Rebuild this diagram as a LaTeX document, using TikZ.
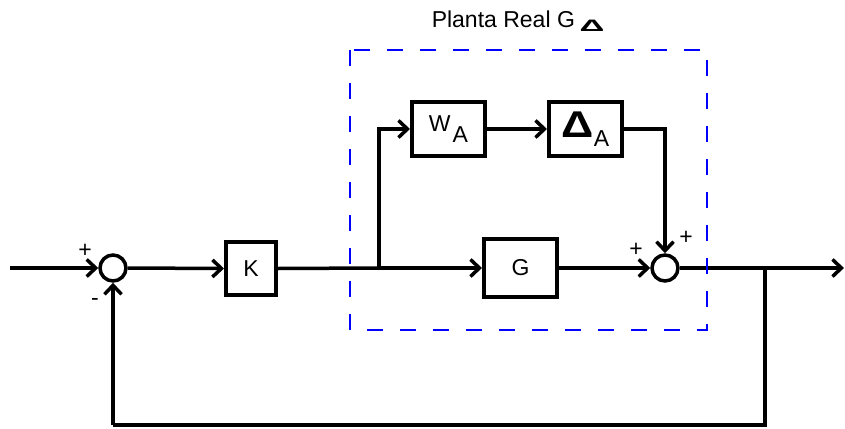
\documentclass[tikz,border=0pt]{standalone}
\usepackage{fontspec}
\setmainfont{Liberation Sans}
\usetikzlibrary{arrows.meta}
\begin{document}
\begin{tikzpicture}[x=1pt,y=-1pt,
  line width=3.5pt,
  font=\fontsize{23}{27}\selectfont,
  blockbox/.style={draw, line width=4pt, minimum width=73pt, minimum height=54pt, inner sep=0pt},
  sumnode/.style={draw, circle, line width=3.5pt, minimum size=26pt, inner sep=0pt},
  sig/.style={line width=3.5pt, -{Straight Barb[length=9pt,width=17pt]}},
  signlbl/.style={inner sep=0pt},
]
\useasboundingbox (0,0) rectangle (845,428);
% nodes
\node[sumnode] (s1) at (113,268) {};
\node[blockbox, minimum width=50pt, minimum height=53pt] (k) at (251,268.5) {K};
\node[blockbox] (wa) at (448.5,129) {W\hspace{2pt}\raisebox{-11pt}{A}};
\node[blockbox] (da) at (585.5,129) {\raisebox{-2pt}{\scalebox{1.95}[1.62]{\bfseries Δ}}\raisebox{-11pt}{A}};
\node[blockbox, minimum height=58pt] (g) at (520.5,268) {G};
\node[sumnode] (s2) at (665,268) {};
\coordinate (in) at (10,268);
\coordinate (out) at (844,268);
\coordinate (b1) at (379,268);
\coordinate (b2) at (765,268);
\coordinate (c1) at (765,425);
\coordinate (c2) at (113,425);
% signals
\draw[sig] (in) -- (s1.west);
\draw[sig] (s1.east) -- (k.west);
\draw (k.east) -- (b1);
\draw[sig] (b1) -- (g.west);
\draw[sig] (b1) |- (wa.west);
\draw[sig] (wa.east) -- (da.west);
\draw[sig] (da.east) -| (s2.north);
\draw[sig] (g.east) -- (s2.west);
\draw[sig] (s2.east) -- (out);
\draw (b2) -- (c1) -- (c2);
\draw[sig] (c2) -- (s1.south);
% signs
\node[signlbl] (p1) at (85,251) {+};
\node[signlbl] (m1) at (95,302) {-};
\node[signlbl] (p2) at (636,250) {+};
\node[signlbl] (p3) at (686,238) {+};
% dashed plant box
\draw[blue, line width=2pt, dash pattern=on 16pt off 17pt] (350,50) rectangle (707,330);
% title
\node[anchor=base west, inner sep=0pt] (title) at (430,28) {Planta Real G};
\node[inner sep=0pt] (tdelta) at (592,26) {\scalebox{1.5}[0.72]{\bfseries Δ}};
\end{tikzpicture}
\end{document}
